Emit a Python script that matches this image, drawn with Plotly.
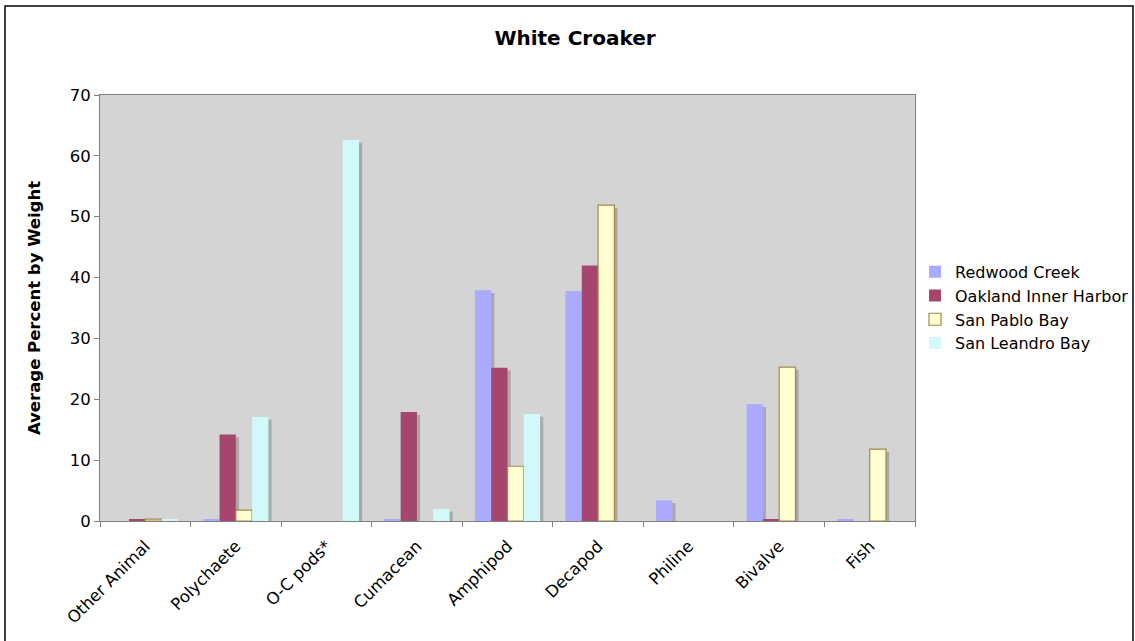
import plotly.graph_objects as go

categories = ["Other Animal", "Polychaete", "O-C pods*", "Cumacean", "Amphipod",
              "Decapod", "Philine", "Bivalve", "Fish"]
redwood_creek = [0.0, 0.3, 0.0, 0.3, 37.9, 37.8, 3.4, 19.2, 0.3]
oakland_inner_harbor = [0.3, 14.2, 0.0, 17.9, 25.2, 42.0, 0.0, 0.2, 0.0]
san_pablo_bay = [0.3, 1.8, 0.0, 0.0, 9.0, 51.9, 0.0, 25.3, 11.8]
san_leandro_bay = [0.3, 17.1, 62.6, 2.0, 17.6, 0.0, 0.0, 0.0, 0.0]
y_ticks = [0, 10, 20, 30, 40, 50, 60, 70]

series = [
    ("Redwood Creek", redwood_creek, "#aaaaff", "#aaaaff", 0),
    ("Oakland Inner Harbor", oakland_inner_harbor, "#a6466f", "#a6466f", 0),
    ("San Pablo Bay", san_pablo_bay, "#ffffd2", "#a3874a", 1.2),
    ("San Leandro Bay", san_leandro_bay, "#d2f9f9", "#d2f9f9", 0),
]

FONT = "DejaVu Sans"
bar_w = 0.18
idx = list(range(len(categories)))

fig = go.Figure()

# drop shadows behind every bar
for i, (name, vals, fill, line, lw) in enumerate(series):
    fig.add_trace(go.Bar(
        x=idx, y=[max(v - 0.45, 0) for v in vals],
        width=bar_w, offset=-2 * bar_w + i * bar_w + 0.035,
        marker=dict(color="#a9a9a9", line=dict(width=0)),
        showlegend=False, hoverinfo="skip",
    ))

for i, (name, vals, fill, line, lw) in enumerate(series):
    fig.add_trace(go.Bar(
        x=idx, y=vals, name=name,
        width=bar_w, offset=-2 * bar_w + i * bar_w,
        marker=dict(color=fill,
                    line=dict(color=line, width=[lw if v > 0 else 0 for v in vals])),
    ))

fig.update_layout(
    width=1135, height=641,
    margin=dict(l=100, r=220, t=95, b=120, autoexpand=False),
    barmode="overlay",
    paper_bgcolor="white",
    plot_bgcolor="#d4d4d4",
    font=dict(family=FONT, size=16, color="black"),
    title=dict(text="<b>White Croaker</b>", x=575 / 1135, xref="container", xanchor="center",
               y=1 - 38 / 641, yref="container", yanchor="middle",
               font=dict(size=20, family=FONT)),
    legend=dict(x=1.0, y=0.625, xanchor="left", yanchor="top",
                font=dict(size=16, family=FONT), tracegroupgap=0,
                itemwidth=30, bgcolor="rgba(0,0,0,0)"),
    xaxis=dict(
        range=[-0.5, 8.5], tickmode="array", tickvals=idx, ticktext=categories,
        tickangle=-45, ticks="", showgrid=False, zeroline=False,
        showline=True, linecolor="#808080", linewidth=1, mirror=True,
        tickfont=dict(size=16.5), ticklabelstandoff=8,
        minor=dict(tick0=-0.5, dtick=1, ticks="outside", ticklen=5,
                   tickcolor="#808080", showgrid=False),
    ),
    yaxis=dict(
        range=[0, 70], tickmode="array", tickvals=y_ticks,
        ticks="outside", ticklen=5, tickcolor="#808080",
        showgrid=False, zeroline=False,
        showline=True, linecolor="#808080", linewidth=1, mirror=True,
        tickfont=dict(size=16.5),
        title=dict(text="<b>Average Percent by Weight</b>", font=dict(size=16.5), standoff=24),
    ),
    shapes=[dict(type="rect", xref="paper", yref="paper",
                 x0=-95 / 815, x1=1033 / 815, y0=-0.4, y1=(521 - 6) / 426,
                 line=dict(color="black", width=1.5), layer="above")],
)

fig.write_html("out.html")
